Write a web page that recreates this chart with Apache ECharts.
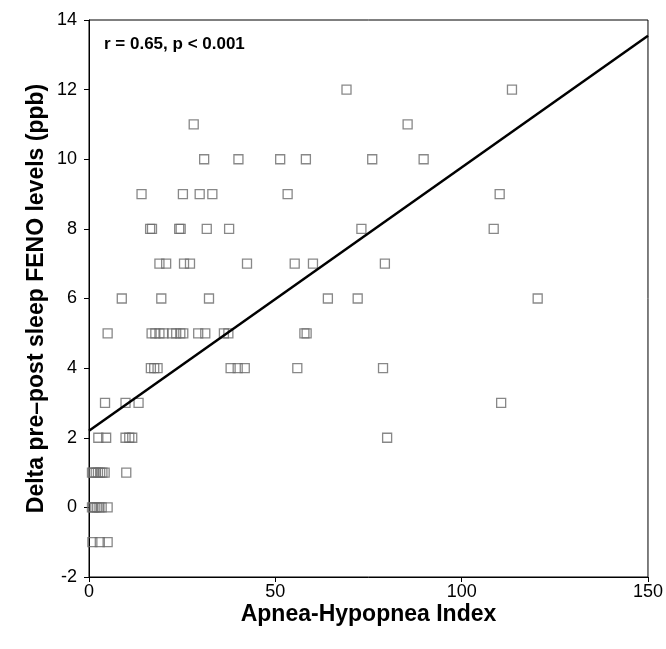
<!DOCTYPE html>
<html>
<head>
<meta charset="utf-8">
<script src="https://cdn.jsdelivr.net/npm/echarts@6/dist/echarts.min.js"></script>
<style>
  html, body { margin: 0; padding: 0; background: #fff; }
  #chart { width: 666px; height: 649px; }
</style>
</head>
<body>
<div id="chart"></div>
<script>
// AHI values (x) and delta FENO (y)
var ahi = [
    69.1, 113.5,
    28.1, 85.5,
    30.9, 40.1, 51.3, 58.2, 76.0, 89.8,
    14.1, 25.2, 29.7, 33.1, 53.3, 110.2,
    16.4, 16.9, 24.2, 24.6, 31.6, 37.6, 73.1, 108.6,
    18.9, 20.7, 25.5, 27.1, 42.4, 55.2, 60.1, 79.4,
    8.8, 19.4, 32.2, 64.1, 72.1, 120.4,
    5.0, 16.8, 17.8, 18.9, 20.0, 22.3, 23.4, 24.5, 25.3, 29.3, 31.2, 36.2, 37.4, 57.8, 58.4,
    16.6, 17.5, 18.4, 38.0, 39.9, 41.8, 55.9, 78.9,
    4.3, 9.8, 13.3, 110.6,
    2.5, 4.6, 9.8, 10.8, 11.6, 80.0,
    0.8, 1.3, 1.8, 2.4, 3.0, 3.6, 4.2, 10.0,
    0.8, 1.2, 1.7, 2.2, 2.8, 3.4, 5.0,
    0.9, 2.9, 5.0
];
var feno = [
    12, 12,
    11, 11,
    10, 10, 10, 10, 10, 10,
    9, 9, 9, 9, 9, 9,
    8, 8, 8, 8, 8, 8, 8, 8,
    7, 7, 7, 7, 7, 7, 7, 7,
    6, 6, 6, 6, 6, 6,
    5, 5, 5, 5, 5, 5, 5, 5, 5, 5, 5, 5, 5, 5, 5,
    4, 4, 4, 4, 4, 4, 4, 4,
    3, 3, 3, 3,
    2, 2, 2, 2, 2, 2,
    1, 1, 1, 1, 1, 1, 1, 1,
    0, 0, 0, 0, 0, 0, 0,
    -1, -1, -1
];
// regression line ends
var fitX = [0, 150];
var fitY = [2.2, 13.55];

var xTicks = [0, 50, 100, 150];
var yTicks = [-2, 0, 2, 4, 6, 8, 10, 12, 14];

var font = "'Liberation Sans', Arial, sans-serif";

var points = ahi.map(function (v, i) { return [v, feno[i]]; });
var fit = fitX.map(function (v, i) { return [v, fitY[i]]; });

var chart = echarts.init(document.getElementById('chart'));
chart.setOption({
    animation: false,
    backgroundColor: '#fff',
    grid: {
        left: 89, right: 13, top: 20, bottom: 72,
        show: true, borderColor: '#000', borderWidth: 1
    },
    graphic: [{
        type: 'text',
        left: 104, top: 36,
        style: {
            text: 'r = 0.65, p < 0.001',
            font: 'bold 17px ' + font,
            fill: '#000'
        }
    }],
    xAxis: {
        type: 'value',
        min: xTicks[0], max: xTicks[xTicks.length - 1], interval: 50,
        name: 'Apnea-Hypopnea Index',
        nameLocation: 'middle',
        nameGap: 38,
        nameMoveOverlap: false,
        nameTextStyle: { fontFamily: font, fontWeight: 'bold', fontSize: 23, color: '#000', verticalAlign: 'middle' },
        axisLine: { onZero: false, lineStyle: { color: '#000', width: 1 } },
        axisTick: { length: 5, lineStyle: { color: '#000' } },
        axisLabel: { fontFamily: font, fontSize: 18, color: '#000', margin: 6 },
        splitLine: { show: false }
    },
    yAxis: {
        type: 'value',
        min: yTicks[0], max: yTicks[yTicks.length - 1], interval: 2,
        name: 'Delta pre\u2013post sleep FENO levels (ppb)',
        nameLocation: 'middle',
        nameGap: 52,
        nameMoveOverlap: false,
        nameTextStyle: { fontFamily: font, fontWeight: 'bold', fontSize: 23, color: '#000', verticalAlign: 'middle' },
        axisLine: { onZero: false, lineStyle: { color: '#000', width: 1 } },
        axisTick: { length: 5, lineStyle: { color: '#000' } },
        axisLabel: { fontFamily: font, fontSize: 18, color: '#000', margin: 12 },
        splitLine: { show: false }
    },
    series: [{
        type: 'scatter',
        symbol: 'rect',
        symbolSize: 9,
        itemStyle: { color: 'rgba(0,0,0,0)', borderColor: '#6a6a6a', borderWidth: 1.3 },
        data: points,
        z: 2
    }, {
        type: 'line',
        data: fit,
        symbol: 'none',
        lineStyle: { color: '#000', width: 2.5 },
        z: 3
    }]
});
</script>
</body>
</html>
